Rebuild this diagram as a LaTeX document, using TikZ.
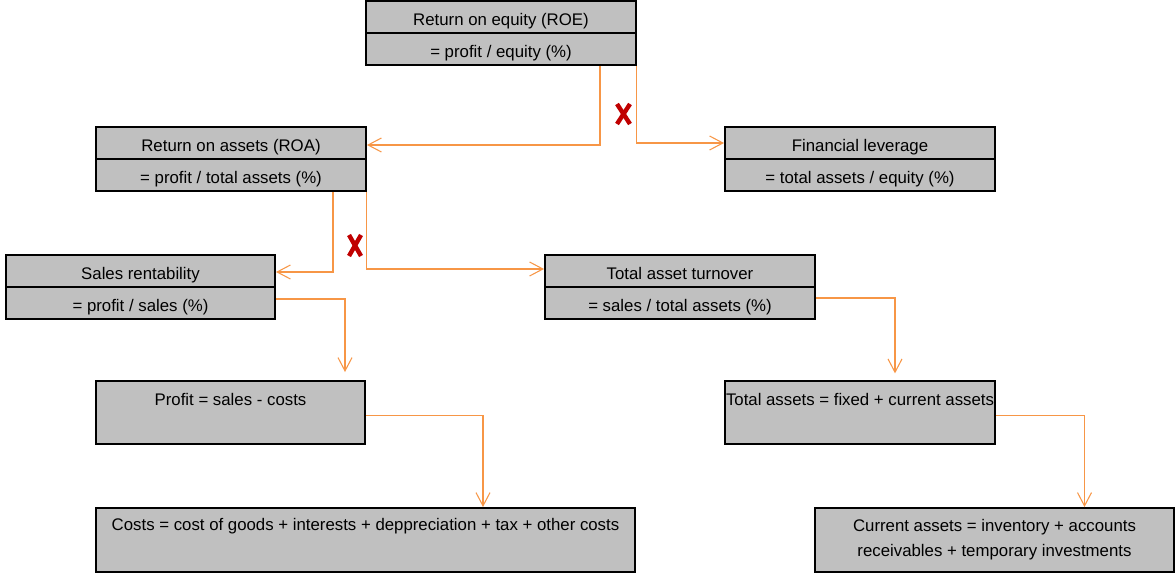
\documentclass[tikz,border=0pt]{standalone}
\usepackage{fontspec}
\setmainfont{Liberation Sans}
\usetikzlibrary{arrows.meta,calc}
\definecolor{boxgray}{HTML}{C0C0C0}
\definecolor{lineor}{HTML}{F79646}
\definecolor{xred}{HTML}{C00000}
\begin{document}
\begin{tikzpicture}[x=0.75pt,y=-0.75pt,
  cell/.style={draw, fill=boxgray, line width=1.4pt, inner sep=0pt,
    minimum height=24pt, minimum width=202.5pt,
    text height=16pt, text depth=3pt,
    font=\fontsize{12.6}{15}\selectfont},
  bigcell/.style={cell, minimum height=47.25pt},
  conn/.style={draw=lineor, line width=0.8pt,
    -{Straight Barb[length=10pt,width=10.5pt]}},
  xmark/.style={draw=xred, line width=3.3pt}]
\useasboundingbox (0,0) rectangle (1175,574);

% top row
\node[cell] (roeT) at (501,17) {Return on equity (ROE)};
\node[cell] (roeB) at (501,49) {= profit / equity (\%)};

% second row
\node[cell] (roaT) at (231,143) {Return on assets (ROA)};
\node[cell] (roaB) at (231,175) {= profit / total assets (\%)};
\node[cell] (flT) at (860,143) {Financial leverage};
\node[cell] (flB) at (860,175) {= total assets / equity (\%)};

% third row
\node[cell, minimum width=201.75pt] (srT) at (140.5,271) {Sales rentability};
\node[cell, minimum width=201.75pt] (srB) at (140.5,303) {= profit / sales (\%)};
\node[cell] (tatT) at (680,271) {Total asset turnover};
\node[cell] (tatB) at (680,303) {= sales / total assets (\%)};

% fourth row
\node[bigcell, minimum width=201.75pt, text height=18pt, text depth=29.25pt] (profit) at (230.5,412.5) {Profit = sales - costs};
\node[bigcell, text height=18pt, text depth=29.25pt] (ta) at (860,412.5) {Total assets = fixed + current assets};

% fifth row
\node[bigcell, minimum height=48pt, minimum width=404.25pt, text height=16.5pt, text depth=31.5pt] (costs) at (365.5,540) {Costs = cost of goods + interests + deppreciation + tax + other costs};
\node[bigcell, minimum height=48pt, minimum width=269.25pt, align=center,
  text height=, text depth=,
  font=\fontsize{12.6}{18.75}\selectfont] (cur) at (994.5,540) {Current assets = inventory + accounts\\receivables + temporary investments};

% connectors
\draw[conn] ($(roeB.south)+(99,0)$) |- ($(roaT.east)+(0,2)$);
\draw[conn] (roeB.south east) |- (flT.west);
\draw[conn] ($(roaB.south)+(102,0)$) |- ($(srT.east)+(0,1)$);
\draw[conn] (roaB.south east) |- ($(tatT.west)+(0,-2)$);
\draw[conn, shorten >=6pt] ($(srB.east)+(0,-4)$) -| ($(profit.north)+(114.5,0)$);
\draw[conn] ($(profit.east)+(0,3)$) -| ($(costs.north)+(117.5,0)$);
\draw[conn, shorten >=5pt] ($(tatB.east)+(0,-5)$) -| ($(ta.north)+(35,0)$);
\draw[conn] ($(ta.east)+(0,3)$) -| ($(cur.north)+(90,0)$);

% red crosses
\draw[xmark] (617,104) -- (630,124);
\draw[xmark] (630,104) -- (617,124);
\draw[xmark] (349,235) -- (361,256);
\draw[xmark] (361,235) -- (349,256);
\end{tikzpicture}
\end{document}
